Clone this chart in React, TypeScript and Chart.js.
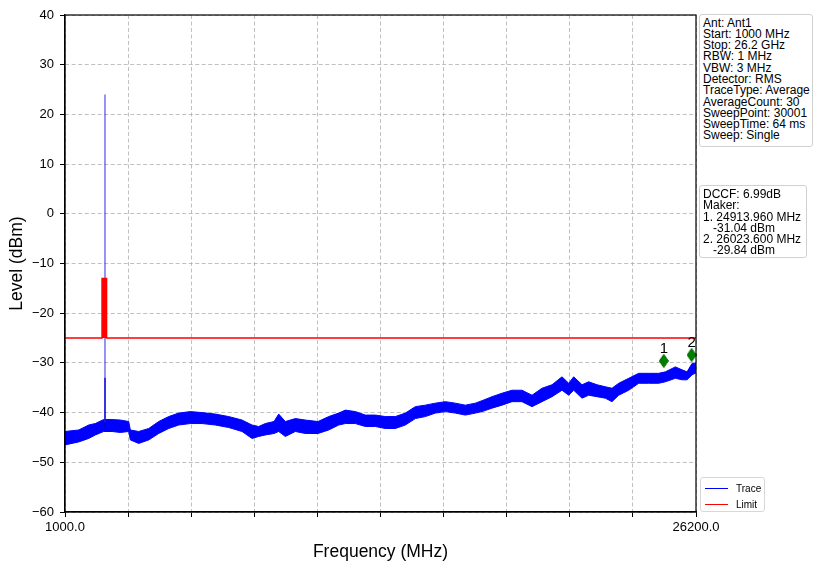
import React, { useEffect, useRef } from "react";
import { Chart, registerables } from "chart.js";

Chart.register(...registerables);

// ---- data ----
const traceFreq = [
  1000, 1547, 1946, 2211, 2544, 2877, 3210, 3544, 3610, 3943, 4343, 4742, 5141, 5541, 6006, 6472, 7004,
  7537, 8069, 8469, 8735, 9001, 9347, 9534, 9800, 10200, 10599, 11105, 11532, 11931, 12197, 12596, 12996,
  13395, 13794, 14193, 14592, 14991, 15391, 15790, 16189, 16589, 16988, 17387, 17654, 18053, 18453, 18852,
  19252, 19651, 20050, 20450, 20849, 21116, 21316, 21648, 21914, 22247, 22580, 22846, 23113, 23512, 23912,
  24311, 24711, 24977, 25377, 25643, 25843, 26043, 26200,
];
const traceLow = [
  -46.5, -45.9, -45.2, -44.5, -43.8, -43.8, -44.0, -43.8, -45.5, -46.2, -45.5, -44.2, -43.2, -42.5, -42.2, -42.2, -42.5,
  -43.0, -43.8, -45.2, -44.8, -44.5, -44.2, -43.8, -44.8, -43.8, -44.2, -44.2, -43.5, -42.5, -42.2, -42.2, -42.8,
  -42.8, -43.2, -43.2, -42.5, -41.2, -40.8, -40.1, -39.8, -40.1, -40.5, -40.1, -39.8, -39.1, -38.5, -37.8,
  -37.8, -38.8, -37.8, -36.8, -35.5, -36.5, -35.5, -37.1, -36.5, -36.8, -37.1, -37.8, -36.5, -35.5, -34.1,
  -34.1, -34.1, -33.8, -33.1, -33.4, -33.4, -32.4, -32.0,
];
const traceHigh = [
  -43.8, -43.5, -42.5, -42.2, -41.4, -41.4, -41.5, -41.8, -43.5, -43.8, -43.2, -41.8, -40.8, -40.1, -39.8, -40.0, -40.3,
  -40.8, -41.5, -42.5, -42.8, -42.2, -41.8, -40.3, -41.8, -41.2, -41.5, -41.8, -40.8, -40.1, -39.5, -39.8, -40.5,
  -40.5, -40.8, -40.8, -40.1, -38.8, -38.5, -38.1, -37.8, -38.1, -38.5, -38.1, -37.6, -36.8, -36.1, -35.5,
  -35.5, -36.5, -35.1, -34.4, -32.8, -34.1, -32.8, -34.4, -33.8, -34.4, -34.8, -35.1, -34.1, -33.1, -32.1,
  -32.1, -32.1, -31.8, -30.8, -31.4, -31.8, -30.1, -30.0,
];
const spikeFreq = [2597, 2597];
const spikeLevel = [-42, 24];
const spikeBaseLevel = [-43, -33];
const limitFreq = [1000, 2480, 2480, 2660, 2660, 26200];
const limitLevel = [-25, -25, -13, -13, -25, -25];
const markerFreq = [24913.96, 26023.6];
const markerLevel = [-29.6, -28.4];
const markerNames = ["1", "2"];
const xTickValues = [1000, 3520, 6040, 8560, 11080, 13600, 16120, 18640, 21160, 23680, 26200];
const xTickLabels = ["1000.0", "", "", "", "", "", "", "", "", "", "26200.0"];
const yMin = -60;
const yMax = 40;
const yStep = 10;
const infoLines = [
  "Ant: Ant1",
  "Start: 1000 MHz",
  "Stop: 26.2 GHz",
  "RBW: 1 MHz",
  "VBW: 3 MHz",
  "Detector: RMS",
  "TraceType: Average",
  "AverageCount: 30",
  "SweepPoint: 30001",
  "SweepTime: 64 ms",
  "Sweep: Single",
];
const makerLines = [
  "DCCF: 6.99dB",
  "Maker:",
  "1. 24913.960 MHz",
  "   -31.04 dBm",
  "2. 26023.600 MHz",
  "   -29.84 dBm",
];
const legendItems = [
  { label: "Trace", color: "#0000ff" },
  { label: "Limit", color: "#ff0000" },
];

const FONT = "'Liberation Sans', Arial, sans-serif";

function makeDiamond(): HTMLCanvasElement {
  const c = document.createElement("canvas");
  c.width = 10;
  c.height = 14;
  const g = c.getContext("2d")!;
  g.beginPath();
  g.moveTo(5, 0.5);
  g.lineTo(9.5, 7);
  g.lineTo(5, 13.5);
  g.lineTo(0.5, 7);
  g.closePath();
  g.fillStyle = "#008000";
  g.fill();
  g.strokeStyle = "#006400";
  g.lineWidth = 1;
  g.stroke();
  return c;
}

export default function App() {
  const canvasRef = useRef<HTMLCanvasElement | null>(null);

  useEffect(() => {
    const canvas = canvasRef.current;
    if (!canvas) return;
    Chart.defaults.font.family = FONT;
    const diamond = makeDiamond();

    const framePlugin = {
      id: "frame",
      afterDraw(chart: any) {
        const { ctx, chartArea } = chart;
        ctx.save();
        ctx.strokeStyle = "#000";
        ctx.lineWidth = 1.2;
        ctx.strokeRect(chartArea.left, chartArea.top, chartArea.right - chartArea.left, chartArea.bottom - chartArea.top);
        ctx.restore();
      },
    };
    const markerLabelPlugin = {
      id: "markerLabels",
      afterDatasetsDraw(chart: any) {
        const idx = chart.data.datasets.findIndex((d: any) => d.label === "Markers");
        const meta = chart.getDatasetMeta(idx);
        const ctx = chart.ctx;
        ctx.save();
        ctx.font = `15px ${FONT}`;
        ctx.fillStyle = "#000";
        ctx.textAlign = "center";
        ctx.textBaseline = "alphabetic";
        meta.data.forEach((pt: any, i: number) => {
          ctx.fillText(markerNames[i], pt.x, pt.y - 8);
        });
        ctx.restore();
      },
    };

    const chart = new Chart(canvas, {
      type: "line",
      data: {
        datasets: [
          {
            label: "Limit",
            data: limitFreq.map((x, i) => ({ x, y: limitLevel[i] })),
            borderColor: "#ff0000",
            backgroundColor: "#ff0000",
            borderWidth: 1.5,
            pointRadius: 0,
            fill: { value: -25 },
            order: 1,
          },
          {
            label: "TraceLow",
            data: traceFreq.map((x, i) => ({ x, y: traceLow[i] })),
            borderColor: "#0000ff",
            borderWidth: 1,
            pointRadius: 0,
            fill: false,
            order: 3,
          },
          {
            label: "Trace",
            data: traceFreq.map((x, i) => ({ x, y: traceHigh[i] })),
            borderColor: "#0000ff",
            backgroundColor: "#0000ff",
            borderWidth: 1,
            pointRadius: 0,
            fill: "-1",
            order: 3,
          },
          {
            label: "Spike",
            data: spikeFreq.map((x, i) => ({ x, y: spikeLevel[i] })),
            borderColor: "#2a2aee",
            borderWidth: 1,
            pointRadius: 0,
            fill: false,
            order: 2,
          },
          {
            label: "SpikeBase",
            data: spikeFreq.map((x, i) => ({ x, y: spikeBaseLevel[i] })),
            borderColor: "#0000cc",
            borderWidth: 1.5,
            pointRadius: 0,
            fill: false,
            order: 2,
          },
          {
            label: "Markers",
            data: markerFreq.map((x, i) => ({ x, y: markerLevel[i] })),
            showLine: false,
            pointStyle: diamond as any,
            pointRadius: 6,
            order: 0,
            clip: false as any,
          },
        ] as any,
      },
      options: {
        animation: false,
        responsive: false,
        maintainAspectRatio: false,
        events: [],
        layout: { padding: { left: 0, top: 15, right: 118, bottom: 0 } },
        plugins: {
          legend: { display: false },
          tooltip: { enabled: false },
          title: { display: false },
        },
        scales: {
          x: {
            type: "linear",
            min: xTickValues[0],
            max: xTickValues[xTickValues.length - 1],
            afterBuildTicks: (scale: any) => {
              scale.ticks = xTickValues.map((v) => ({ value: v }));
            },
            afterFit: (scale: any) => {
              scale.height = 51;
            },
            ticks: {
              autoSkip: false,
              maxRotation: 0,
              minRotation: 0,
              padding: 3,
              color: "#000",
              font: { family: FONT, size: 13 },
              callback: (_v: any, i: number) => xTickLabels[i],
            },
            grid: { color: "#b0b0b0", lineWidth: 0.8, tickColor: "#000", tickLength: 5, tickWidth: 1 },
            border: { color: "#000", width: 1.2, dash: [4, 2.5] },
            title: {
              display: true,
              text: "Frequency (MHz)",
              color: "#000",
              font: { family: FONT, size: 17.5, lineHeight: 1.2 },
              padding: { top: 0, bottom: 0.5 },
            },
          },
          y: {
            type: "linear",
            min: yMin,
            max: yMax,
            afterFit: (scale: any) => {
              scale.width = 65;
            },
            ticks: {
              stepSize: yStep,
              padding: 6,
              color: "#000",
              font: { family: FONT, size: 13 },
              callback: (v: any) => String(v).replace("-", "\u2212"),
            },
            grid: { color: "#b0b0b0", lineWidth: 0.8, tickColor: "#000", tickLength: 5, tickWidth: 1 },
            border: { color: "#000", width: 1.2, dash: [4, 2.5] },
            title: {
              display: true,
              text: "Level (dBm)",
              color: "#000",
              font: { family: FONT, size: 17.5, lineHeight: 1.2 },
              padding: { top: 6.5, bottom: 0 },
            },
          },
        },
      } as any,
      plugins: [framePlugin, markerLabelPlugin],
    });
    return () => chart.destroy();
  }, []);

  const boxStyle: React.CSSProperties = {
    position: "absolute",
    boxSizing: "border-box",
    border: "1px solid #d0d0d0",
    borderRadius: 3,
    background: "#fff",
    fontFamily: FONT,
    fontSize: 12,
    lineHeight: "11.3px",
    color: "#000",
    whiteSpace: "pre",
    paddingLeft: 3,
  };

  return (
    <div style={{ position: "absolute", left: 0, top: 0, width: 814, height: 563, background: "#fff" }}>
      <canvas ref={canvasRef} width={814} height={563} style={{ position: "absolute", left: 0, top: 0, width: 814, height: 563 }} />
      <div style={{ ...boxStyle, left: 699, top: 14, width: 114, height: 133, paddingTop: 2.5 }}>
        {infoLines.map((t, i) => (
          <div key={i}>{t}</div>
        ))}
      </div>
      <div style={{ ...boxStyle, left: 699, top: 185, width: 108, height: 73, paddingTop: 3 }}>
        {makerLines.map((t, i) => (
          <div key={i}>{t}</div>
        ))}
      </div>
      <div
        style={{
          position: "absolute",
          left: 700,
          top: 477,
          width: 65,
          height: 35,
          boxSizing: "border-box",
          border: "1px solid #d8d8d8",
          borderRadius: 3,
          background: "#fff",
          fontFamily: FONT,
          fontSize: 10,
          color: "#000",
        }}
      >
        {legendItems.map((it, i) => (
          <div key={i} style={{ position: "absolute", left: 4, top: 3 + i * 16, height: 14, display: "flex", alignItems: "center" }}>
            <span style={{ display: "inline-block", width: 23, height: 0, borderTop: `1.5px solid ${it.color}`, marginRight: 8 }} />
            <span>{it.label}</span>
          </div>
        ))}
      </div>
    </div>
  );
}
